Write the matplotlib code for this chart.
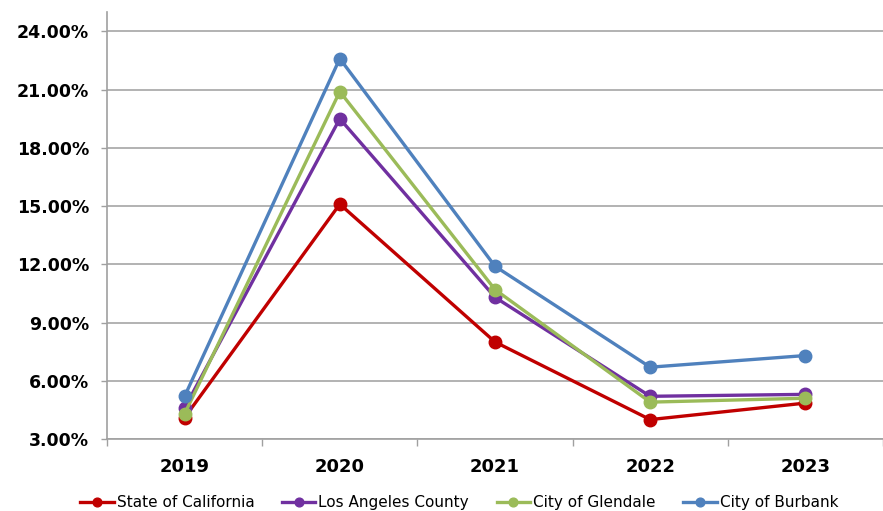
import matplotlib
matplotlib.use('Agg')
import matplotlib.pyplot as plt
from matplotlib.ticker import FuncFormatter

years = ['2019', '2020', '2021', '2022', '2023']
state_ca = [4.1, 15.1, 8.0, 4.0, 4.85]
la_county = [4.6, 19.5, 10.3, 5.2, 5.3]
glendale = [4.3, 20.9, 10.7, 4.9, 5.1]
burbank = [5.2, 22.6, 11.9, 6.7, 7.3]

series = [
    ('State of California', state_ca, '#C00000'),
    ('Los Angeles County', la_county, '#7030A0'),
    ('City of Glendale', glendale, '#9BBB59'),
    ('City of Burbank', burbank, '#4F81BD'),
]

fig = plt.figure(figsize=(8.83, 5.11), dpi=100)
ax = fig.add_axes([107 / 883, 72 / 511, 776 / 883, 427 / 511])

x = list(range(len(years)))
for name, vals, color in series:
    ax.plot(x, vals, color=color, lw=2.4, marker='o', markersize=9, label=name)

ax.set_ylim(3, 25)
ax.set_yticks([3, 6, 9, 12, 15, 18, 21, 24])
ax.yaxis.set_major_formatter(FuncFormatter(lambda v, p: f'{v:.2f}%'))
ax.set_xlim(-0.5, 4.45)
ax.set_xticks(x)
ax.set_xticklabels(years)
ax.set_xticks([i - 0.5 for i in range(6)], minor=True)
ax.tick_params(axis='x', which='major', length=0, pad=14)
ax.tick_params(axis='x', which='minor', length=5, color='#a0a0a0', width=1)
ax.tick_params(axis='y', length=4, color='#a0a0a0', width=1, pad=9)
for lab in ax.get_xticklabels():
    lab.set_fontweight('bold')
    lab.set_fontsize(13)
for lab in ax.get_yticklabels():
    lab.set_fontweight('bold')
    lab.set_fontsize(12.5)

ax.grid(axis='y', color='#a6a6a6', lw=1.2)
ax.set_axisbelow(True)
for s in ['top', 'right']:
    ax.spines[s].set_visible(False)
for s in ['left', 'bottom']:
    ax.spines[s].set_color('#a0a0a0')
    ax.spines[s].set_linewidth(1.2)

fig.legend(loc='lower center', bbox_to_anchor=(0.52, -0.025), ncol=4, frameon=False,
           fontsize=11, handlelength=2.2, handletextpad=0.2, columnspacing=1.8,
           markerscale=0.7)

fig.savefig('out.png', dpi=100)
